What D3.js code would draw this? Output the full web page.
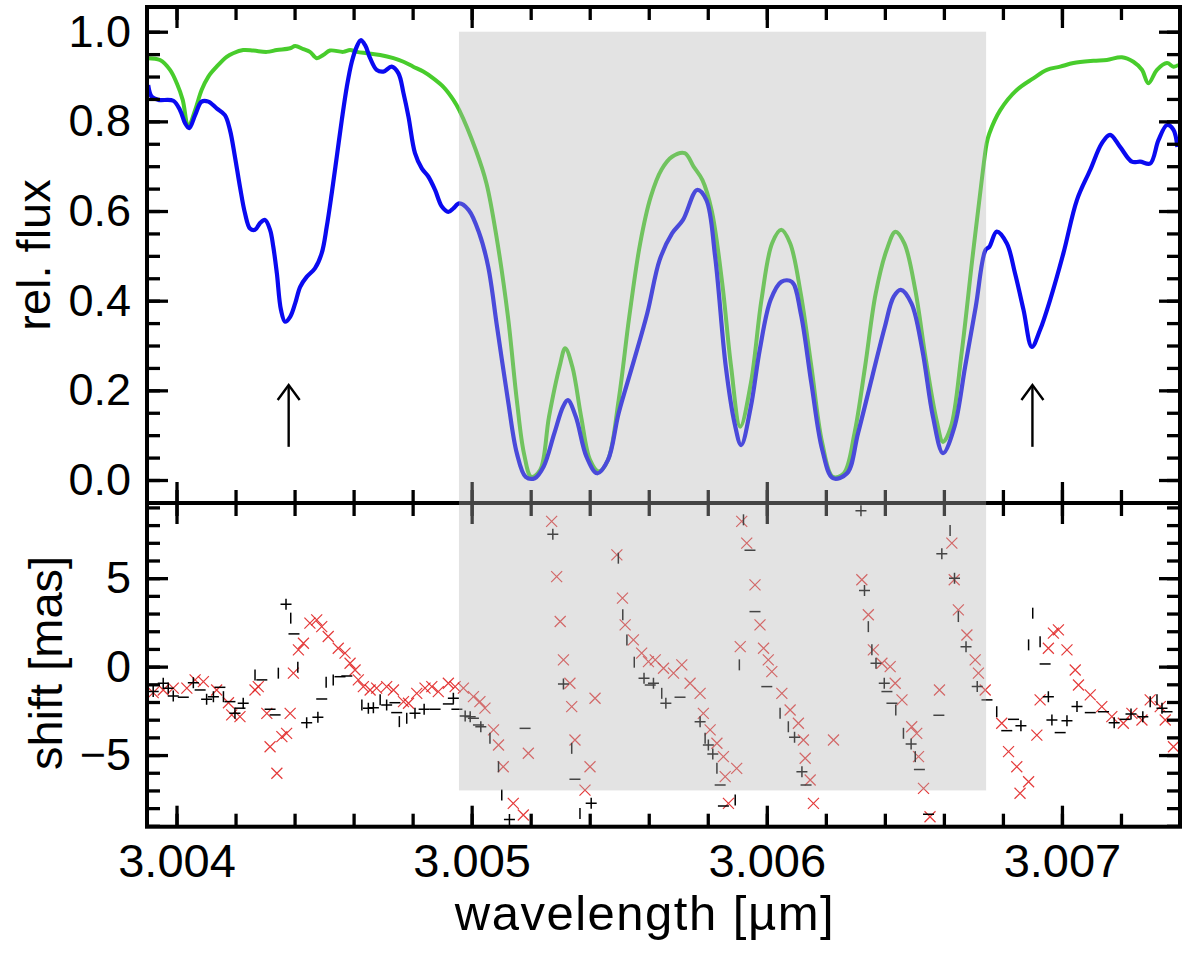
<!DOCTYPE html>
<html>
<head>
<meta charset="utf-8">
<script src="https://cdn.jsdelivr.net/npm/d3@7"></script>
<style>
  body { margin: 0; background: #fff; }
  svg { display: block; font-family: "Liberation Sans", Arial, sans-serif; }
</style>
</head>
<body>
<svg id="chart"></svg>
<script>
// ---- data: [wavelength (µm), value] ----
const greenFlux = [[3.003904,0.941],[3.003944,0.937],[3.003978,0.915],[3.004001,0.885],[3.004021,0.848],[3.004040,0.788],[3.004063,0.825],[3.004085,0.870],[3.004108,0.900],[3.004136,0.922],[3.004170,0.944],[3.004192,0.952],[3.004226,0.959],[3.004260,0.958],[3.004306,0.955],[3.004340,0.959],[3.004385,0.963],[3.004402,0.968],[3.004430,0.961],[3.004452,0.955],[3.004475,0.941],[3.004497,0.948],[3.004520,0.958],[3.004565,0.955],[3.004588,0.959],[3.004611,0.955],[3.004645,0.952],[3.004690,0.948],[3.004735,0.941],[3.004769,0.933],[3.004802,0.922],[3.004836,0.911],[3.004870,0.896],[3.004904,0.877],[3.004938,0.848],[3.004958,0.825],[3.005014,0.736],[3.005050,0.662],[3.005086,0.535],[3.005123,0.364],[3.005153,0.178],[3.005177,0.060],[3.005202,0.007],[3.005232,0.022],[3.005262,0.141],[3.005298,0.253],[3.005317,0.294],[3.005341,0.253],[3.005371,0.141],[3.005401,0.045],[3.005431,0.019],[3.005462,0.045],[3.005498,0.178],[3.005534,0.364],[3.005571,0.528],[3.005607,0.632],[3.005643,0.692],[3.005679,0.721],[3.005722,0.729],[3.005752,0.699],[3.005782,0.669],[3.005813,0.602],[3.005849,0.439],[3.005879,0.253],[3.005910,0.119],[3.005946,0.216],[3.005982,0.402],[3.006018,0.528],[3.006049,0.558],[3.006079,0.528],[3.006115,0.416],[3.006151,0.253],[3.006188,0.082],[3.006224,0.007],[3.006261,0.015],[3.006297,0.104],[3.006333,0.253],[3.006369,0.416],[3.006406,0.513],[3.006436,0.554],[3.006466,0.528],[3.006503,0.424],[3.006539,0.268],[3.006575,0.134],[3.006597,0.085],[3.006624,0.119],[3.006660,0.283],[3.006696,0.491],[3.006727,0.662],[3.006745,0.751],[3.006754,0.773],[3.006791,0.825],[3.006847,0.870],[3.006903,0.896],[3.006949,0.915],[3.006994,0.922],[3.007039,0.930],[3.007107,0.935],[3.007152,0.937],[3.007203,0.943],[3.007242,0.933],[3.007271,0.915],[3.007293,0.885],[3.007322,0.915],[3.007356,0.930],[3.007378,0.922],[3.007395,0.926]];

const blueFlux = [[3.003904,0.881],[3.003916,0.855],[3.003938,0.848],[3.003989,0.846],[3.004012,0.825],[3.004029,0.796],[3.004043,0.785],[3.004063,0.814],[3.004085,0.844],[3.004108,0.844],[3.004136,0.829],[3.004164,0.814],[3.004181,0.781],[3.004198,0.721],[3.004215,0.654],[3.004232,0.595],[3.004249,0.561],[3.004266,0.558],[3.004283,0.573],[3.004300,0.580],[3.004317,0.558],[3.004328,0.520],[3.004340,0.461],[3.004354,0.379],[3.004368,0.353],[3.004385,0.364],[3.004402,0.394],[3.004419,0.431],[3.004441,0.453],[3.004469,0.472],[3.004492,0.506],[3.004509,0.565],[3.004526,0.640],[3.004543,0.721],[3.004560,0.803],[3.004577,0.877],[3.004594,0.933],[3.004611,0.967],[3.004624,0.981],[3.004639,0.970],[3.004656,0.941],[3.004678,0.915],[3.004701,0.911],[3.004729,0.922],[3.004752,0.907],[3.004769,0.863],[3.004786,0.810],[3.004808,0.729],[3.004831,0.695],[3.004853,0.677],[3.004876,0.647],[3.004899,0.610],[3.004921,0.598],[3.004938,0.606],[3.004958,0.617],[3.004990,0.602],[3.005026,0.550],[3.005056,0.476],[3.005086,0.342],[3.005123,0.178],[3.005153,0.060],[3.005183,0.007],[3.005214,0.004],[3.005244,0.030],[3.005280,0.104],[3.005310,0.164],[3.005326,0.178],[3.005353,0.141],[3.005389,0.052],[3.005425,0.015],[3.005462,0.045],[3.005498,0.149],[3.005547,0.260],[3.005595,0.372],[3.005637,0.491],[3.005679,0.550],[3.005716,0.580],[3.005764,0.647],[3.005795,0.625],[3.005825,0.498],[3.005861,0.253],[3.005891,0.126],[3.005913,0.078],[3.005946,0.164],[3.005976,0.290],[3.006013,0.402],[3.006049,0.442],[3.006085,0.442],[3.006115,0.372],[3.006151,0.216],[3.006188,0.067],[3.006224,0.004],[3.006272,0.015],[3.006309,0.104],[3.006357,0.230],[3.006400,0.342],[3.006430,0.409],[3.006454,0.424],[3.006490,0.394],[3.006527,0.290],[3.006563,0.141],[3.006597,0.060],[3.006636,0.119],[3.006672,0.253],[3.006708,0.387],[3.006741,0.513],[3.006754,0.520],[3.006779,0.554],[3.006813,0.528],[3.006841,0.461],[3.006870,0.379],[3.006898,0.297],[3.006926,0.335],[3.006960,0.402],[3.007005,0.506],[3.007051,0.625],[3.007096,0.692],[3.007135,0.751],[3.007163,0.770],[3.007197,0.743],[3.007237,0.710],[3.007265,0.710],[3.007299,0.706],[3.007327,0.758],[3.007356,0.792],[3.007378,0.781],[3.007391,0.743]];

// shift [mas], black markers (plus / dash / bar) and red crosses
const plusShift = [[3.003921,-1.41],[3.003955,-0.94],[3.003972,-1.22],[3.003989,-1.66],[3.004057,-0.91],[3.004102,-1.84],[3.004125,-1.70],[3.004198,-2.64],[3.004226,-2.07],[3.004371,3.53],[3.004441,-3.17],[3.004479,-2.86],[3.004650,-2.35],[3.004667,-2.32],[3.004712,-2.17],[3.004808,-2.64],[3.004839,-2.41],[3.004938,-1.79],[3.004978,-2.79],[3.004995,-2.83],[3.005031,-3.40],[3.005128,-8.64],[3.005275,7.49],[3.005311,-0.98],[3.005405,-7.73],[3.005584,-0.66],[3.005616,-0.94],[3.005658,-2.07],[3.005774,-3.11],[3.005802,-4.43],[3.005817,-4.94],[3.006094,-4.00],[3.006119,-5.94],[3.006319,8.81],[3.006331,4.30],[3.006370,0.19],[3.006398,-0.94],[3.006489,-4.37],[3.006593,6.38],[3.006636,5.00],[3.006675,1.13],[3.006713,-1.13],[3.006861,-3.34],[3.006954,-1.70],[3.006966,-3.02],[3.007017,-3.06],[3.007051,-2.26],[3.007177,-3.17],[3.007234,-2.68],[3.007274,-2.83],[3.007339,-2.35]];

const dashShift = [[3.004023,-1.73],[3.004080,-1.32],[3.004147,-1.17],[3.004181,-1.98],[3.004215,-2.35],[3.004289,-0.75],[3.004317,-2.41],[3.004334,-2.73],[3.004398,1.85],[3.004492,-1.83],[3.004554,-0.57],[3.004577,-0.53],[3.004740,-2.04],[3.004746,-2.60],[3.004876,-2.41],[3.004921,-2.11],[3.004950,-2.41],[3.005006,-2.92],[3.005023,-3.30],[3.005181,-3.49],[3.005350,-6.37],[3.005605,-1.04],[3.005706,-1.73],[3.005842,-6.69],[3.005853,-7.88],[3.005943,6.58],[3.005960,3.11],[3.006000,-1.13],[3.006133,-6.69],[3.006407,-1.41],[3.006424,-2.07],[3.006517,-5.81],[3.006548,-8.34],[3.006583,-2.75],[3.006746,-1.88],[3.006836,-2.98],[3.006813,-3.62],[3.006943,0.15],[3.006994,-3.73],[3.007096,-2.60],[3.007141,-2.55],[3.007214,-2.98],[3.007356,-2.55]];

const barShift = [[3.004159,-1.70],[3.004266,-0.47],[3.004345,-0.37],[3.004387,2.74],[3.004411,-0.03],[3.004507,-0.88],[3.004531,-0.75],[3.004628,-2.17],[3.004690,-1.88],[3.004755,-3.11],[3.004780,-2.92],[3.005062,-4.05],[3.005091,-5.66],[3.005102,-7.26],[3.005339,-4.62],[3.005367,-8.30],[3.005497,6.13],[3.005512,2.93],[3.005526,1.51],[3.005551,0.25],[3.005644,-1.51],[3.005791,-4.05],[3.005831,-5.75],[3.005893,-7.54],[3.005907,0.10],[3.005921,8.30],[3.006045,-2.64],[3.006073,-3.40],[3.006344,2.26],[3.006356,0.95],[3.006437,-2.45],[3.006463,-3.77],[3.006503,-5.09],[3.006621,7.70],[3.006649,2.83],[3.006779,-2.55],[3.006901,3.02],[3.006887,1.23],[3.006926,1.41],[3.007299,-1.98],[3.007322,-1.88]];

const crossShift = [[3.003921,-1.47],[3.003955,-1.32],[3.003989,-1.22],[3.004035,-1.22],[3.004063,-0.75],[3.004091,-0.85],[3.004136,-1.32],[3.004176,-2.04],[3.004187,-2.73],[3.004215,-2.83],[3.004266,-1.32],[3.004277,-1.13],[3.004306,-2.64],[3.004317,-4.53],[3.004340,-6.03],[3.004357,-3.96],[3.004373,-3.77],[3.004385,-2.64],[3.004396,-0.37],[3.004413,0.95],[3.004430,1.32],[3.004452,2.46],[3.004475,2.64],[3.004492,2.26],[3.004514,1.70],[3.004548,1.04],[3.004571,0.76],[3.004588,0.19],[3.004605,-0.19],[3.004616,-0.75],[3.004633,-1.13],[3.004656,-1.32],[3.004678,-1.22],[3.004712,-1.13],[3.004735,-1.32],[3.004769,-1.98],[3.004786,-2.07],[3.004814,-1.51],[3.004842,-1.22],[3.004865,-1.13],[3.004887,-1.41],[3.004921,-0.94],[3.004944,-1.13],[3.004972,-1.22],[3.005006,-1.70],[3.005028,-1.98],[3.005045,-2.35],[3.005074,-3.58],[3.005091,-4.43],[3.005107,-5.66],[3.005141,-7.73],[3.005175,-8.39],[3.005192,-4.90],[3.005271,8.21],[3.005288,5.09],[3.005300,2.55],[3.005311,0.38],[3.005333,-0.94],[3.005339,-2.26],[3.005350,-4.15],[3.005384,-6.98],[3.005401,-5.66],[3.005418,-1.79],[3.005492,6.32],[3.005511,3.87],[3.005520,2.36],[3.005548,1.51],[3.005576,0.76],[3.005599,0.28],[3.005622,0.38],[3.005650,-0.09],[3.005684,-0.37],[3.005712,0.10],[3.005740,-0.94],[3.005774,-1.51],[3.005785,-2.64],[3.005808,-3.58],[3.005831,-4.33],[3.005853,-5.09],[3.005859,-6.22],[3.005898,-5.75],[3.005870,-7.73],[3.005910,1.13],[3.005915,8.21],[3.005932,6.98],[3.005960,4.62],[3.005977,2.36],[3.005989,1.04],[3.006005,0.38],[3.006017,-0.28],[3.006051,-1.51],[3.006079,-2.45],[3.006107,-3.20],[3.006124,-4.15],[3.006130,-5.18],[3.006147,-6.41],[3.006158,-7.73],[3.006226,-4.15],[3.006322,4.91],[3.006344,2.93],[3.006361,0.95],[3.006390,0.19],[3.006418,0.00],[3.006435,-0.94],[3.006458,-1.88],[3.006491,-3.40],[3.006508,-3.77],[3.006514,-5.09],[3.006531,-6.88],[3.006553,-8.49],[3.006585,-1.32],[3.006627,6.98],[3.006635,4.91],[3.006649,3.21],[3.006678,1.79],[3.006706,0.38],[3.006717,-0.37],[3.006740,-1.32],[3.006796,-3.20],[3.006819,-4.81],[3.006847,-5.66],[3.006887,-6.51],[3.006858,-7.16],[3.006915,-3.87],[3.006926,-1.88],[3.006954,1.04],[3.006971,1.89],[3.006988,2.08],[3.007017,0.95],[3.007045,-0.19],[3.007056,-1.04],[3.007096,-1.60],[3.007135,-2.26],[3.007169,-2.83],[3.007208,-3.20],[3.007237,-2.64],[3.007271,-3.02],[3.007299,-1.88],[3.007333,-2.26],[3.007350,-3.02],[3.007378,-4.53]];

// marked region, arrows, ticks
const bandWl = [3.004957, 3.006743];
const bandFluxTop = 1.0, bandShiftBottom = -7;
const arrowWl = [3.00438, 3.00690];
const arrowFlux = [0.074, 0.212];
const xTicks = [3.004, 3.005, 3.006, 3.007];
const fluxTicks = [0, 0.2, 0.4, 0.6, 0.8, 1.0];
const shiftTicks = [-5, 0, 5];

// ---- layout ----
const W = 1200, H = 961;
const L = 147, R = 1180, T = 7, MID = 503, B = 826.7;

const svg = d3.select('#chart').attr('width', W).attr('height', H);

const x = d3.scaleLinear().domain([3.0039, 3.0074]).range([L, R]);
const yF = d3.scaleLinear().domain([-0.0513, 1.0551]).range([MID, T]);
const yS = d3.scaleLinear().domain([-9.05, 9.25]).range([B, MID]);

const xMinor = d3.range(0, 17).map(i => 3.004 + i * 0.0002);
const fluxMinor = d3.range(0, 21).map(i => i * 0.05);
const shiftMinor = d3.range(-9, 10);

const defs = svg.append('defs');
defs.append('clipPath').attr('id', 'clipTop')
  .append('rect').attr('x', L).attr('y', T).attr('width', R - L).attr('height', MID - T);
defs.append('clipPath').attr('id', 'clipBot')
  .append('rect').attr('x', L).attr('y', MID).attr('width', R - L).attr('height', B - MID);

// ---- top panel: spectra ----
const line = d3.line().x(d => x(d[0])).y(d => yF(d[1])).curve(d3.curveCatmullRom.alpha(0.5));
const topG = svg.append('g').attr('clip-path', 'url(#clipTop)');
topG.append('path').datum(greenFlux).attr('d', line)
  .attr('fill', 'none').attr('stroke', '#48cc2c').attr('stroke-width', 4).attr('stroke-linejoin', 'round');
topG.append('path').datum(blueFlux).attr('d', line)
  .attr('fill', 'none').attr('stroke', '#0a0af0').attr('stroke-width', 4.2).attr('stroke-linejoin', 'round');

// arrows under the two marked lines
const arrows = svg.append('g').attr('stroke', '#000').attr('stroke-width', 2.4).attr('fill', 'none');
arrowWl.forEach(w => {
  const ax = x(w), y0 = yF(arrowFlux[0]), y1 = yF(arrowFlux[1]);
  arrows.append('line').attr('x1', ax).attr('x2', ax).attr('y1', y0).attr('y2', y1 + 1);
  arrows.append('path').attr('d', `M${ax - 11},${y1 + 15}L${ax},${y1}L${ax + 11},${y1 + 15}`);
});

// ---- bottom panel: shifts ----
const botG = svg.append('g').attr('clip-path', 'url(#clipBot)');
botG.append('g').selectAll('path').data(crossShift).join('path')
  .attr('transform', d => `translate(${x(d[0])},${yS(d[1])})`)
  .attr('d', 'M-5.5,-5.5L5.5,5.5M-5.5,5.5L5.5,-5.5')
  .attr('stroke', '#e01818').attr('stroke-width', 1.2).attr('opacity', 0.85);
botG.append('g').selectAll('path').data(plusShift).join('path')
  .attr('transform', d => `translate(${x(d[0])},${yS(d[1])})`)
  .attr('d', 'M-5.5,0H5.5M0,-5.5V5.5')
  .attr('stroke', '#000').attr('stroke-width', 1.5);
botG.append('g').selectAll('path').data(dashShift).join('path')
  .attr('transform', d => `translate(${x(d[0])},${yS(d[1])})`)
  .attr('d', 'M-5.5,0H5.5')
  .attr('stroke', '#000').attr('stroke-width', 1.5);
botG.append('g').selectAll('path').data(barShift).join('path')
  .attr('transform', d => `translate(${x(d[0])},${yS(d[1])})`)
  .attr('d', 'M0,-5.5V5.5')
  .attr('stroke', '#000').attr('stroke-width', 1.5);

// ---- axes ----
function styleAxis(g, fontSize) {
  g.attr('font-size', null).attr('font-family', null);
  g.select('.domain').remove();
  g.selectAll('.tick line').attr('stroke', '#000').attr('stroke-width', 3.3);
  g.selectAll('.tick text').attr('fill', '#000').style('font-size', fontSize + 'px');
}
function addAxis(axis, tx, ty, fontSize) {
  const g = svg.append('g').attr('transform', `translate(${tx},${ty})`).call(axis);
  styleAxis(g, fontSize || 46);
  return g;
}
const noLab = () => '';

// x ticks: top border, both sides of the separator, bottom border
[[d3.axisTop, T], [d3.axisBottom, MID], [d3.axisTop, MID], [d3.axisBottom, B]].forEach(([ax, yy]) => {
  addAxis(ax(x).tickValues(xMinor).tickSize(-13).tickFormat(noLab), 0, yy);
  if (yy !== B) addAxis(ax(x).tickValues(xTicks).tickSize(-21).tickFormat(noLab), 0, yy);
});
addAxis(d3.axisBottom(x).tickValues(xTicks).tickSize(-21).tickPadding(17).tickFormat(d3.format('.3f')), 0, B, 47);

// y ticks, top panel
addAxis(d3.axisLeft(yF).tickValues(fluxMinor).tickSize(-13).tickFormat(noLab), L, 0);
addAxis(d3.axisLeft(yF).tickValues(fluxTicks).tickSize(-21).tickPadding(16).tickFormat(d3.format('.1f')), L, 0, 45);
addAxis(d3.axisRight(yF).tickValues(fluxMinor).tickSize(-13).tickFormat(noLab), R, 0);
addAxis(d3.axisRight(yF).tickValues(fluxTicks).tickSize(-21).tickFormat(noLab), R, 0);

// y ticks, bottom panel
addAxis(d3.axisLeft(yS).tickValues(shiftMinor).tickSize(-13).tickFormat(noLab), L, 0);
addAxis(d3.axisLeft(yS).tickValues(shiftTicks).tickSize(-21).tickPadding(16).tickFormat(d3.format('d')), L, 0, 45);
addAxis(d3.axisRight(yS).tickValues(shiftMinor).tickSize(-13).tickFormat(noLab), R, 0);
addAxis(d3.axisRight(yS).tickValues(shiftTicks).tickSize(-21).tickFormat(noLab), R, 0);

// frame and separator
svg.append('rect').attr('x', L).attr('y', T).attr('width', R - L).attr('height', B - T)
  .attr('fill', 'none').attr('stroke', '#000').attr('stroke-width', 4);
svg.append('line').attr('x1', L).attr('x2', R).attr('y1', MID).attr('y2', MID)
  .attr('stroke', '#000').attr('stroke-width', 4);

// translucent grey band over the marked wavelength range
svg.append('rect')
  .attr('x', x(bandWl[0])).attr('width', x(bandWl[1]) - x(bandWl[0]))
  .attr('y', yF(bandFluxTop)).attr('height', yS(bandShiftBottom) - yF(bandFluxTop))
  .attr('fill', 'rgb(181,181,181)').attr('fill-opacity', 0.376);

// axis titles
svg.append('text').attr('transform', `translate(50,${255}) rotate(-90)`)
  .attr('text-anchor', 'middle').style('font-size', '47px').text('rel. flux');
svg.append('text').attr('transform', `translate(62,${663}) rotate(-90)`)
  .attr('text-anchor', 'middle').style('font-size', '47px').text('shift [mas]');
svg.append('text').attr('x', 645).attr('y', 930)
  .attr('text-anchor', 'middle').style('font-size', '49px').style('letter-spacing', '1.5px')
  .text('wavelength [µm]');
</script>
</body>
</html>
